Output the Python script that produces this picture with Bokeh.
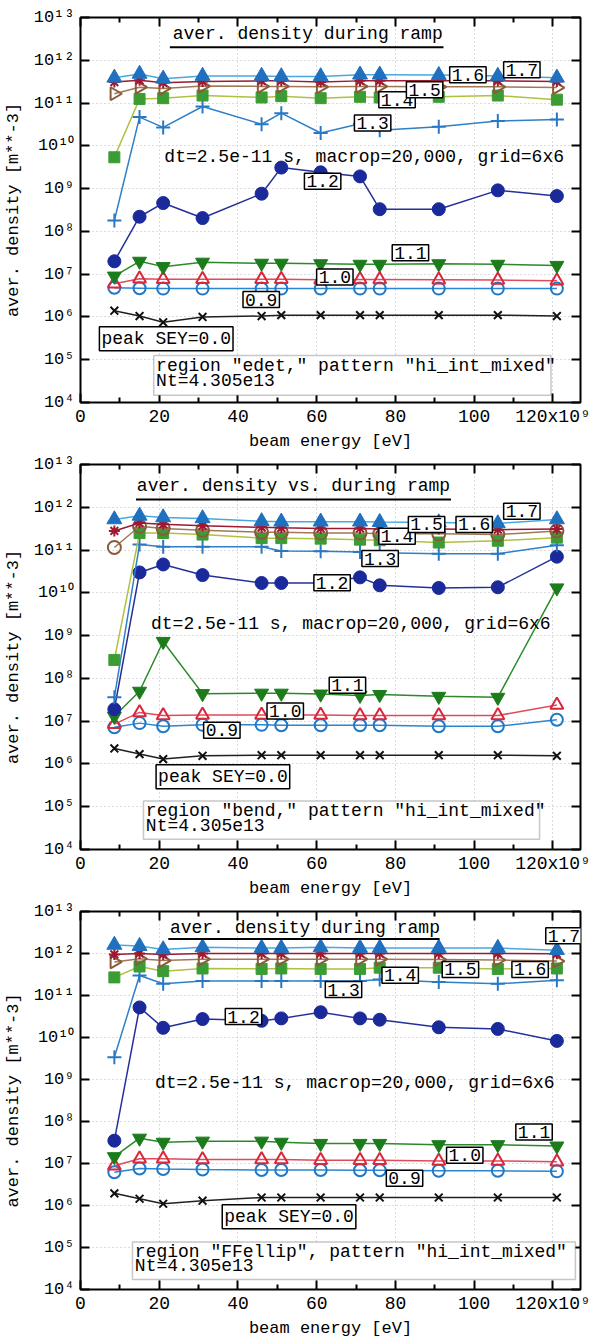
import math
from bokeh.plotting import figure
from bokeh.models import (Range1d, FixedTicker, LogAxis, LinearAxis, Label, BoxAnnotation)
from bokeh.layouts import column
from bokeh.embed import file_html
from bokeh.resources import INLINE

# beam energy of the simulated ramp points [GeV]
energy_gev = [8.6, 15, 21, 31, 46, 51, 61, 71, 76, 91, 106, 121]
sey_levels = ["0.0", "0.9", "1.0", "1.1", "1.2", "1.3", "1.4", "1.5", "1.6", "1.7"]

# ---- region "edet," ----
edet_00 = [1.4e6, 1.05e6, 7.5e5, 1.0e6, 1.05e6, 1.1e6, 1.1e6, 1.1e6, 1.1e6, 1.1e6, 1.1e6, 1.05e6]
edet_09 = [4.8e6, 4.7e6, 4.6e6, 4.6e6, 4.6e6, 4.6e6, 4.6e6, 4.6e6, 4.6e6, 4.6e6, 4.6e6, 4.6e6]
edet_10 = [6.0e6, 7.8e6, 7.6e6, 7.6e6, 7.6e6, 7.6e6, 7.4e6, 7.5e6, 7.5e6, 7.4e6, 7.3e6, 7.0e6]
edet_11 = [9.0e6, 2.0e7, 1.5e7, 1.9e7, 1.8e7, 1.8e7, 1.75e7, 1.7e7, 1.7e7, 1.75e7, 1.7e7, 1.6e7]
edet_12 = [2.0e7, 2.2e8, 4.6e8, 2.05e8, 7.6e8, 3.1e9, 2.4e9, 1.93e9, 3.3e8, 3.3e8, 9.1e8, 6.7e8]
edet_13 = [1.8e8, 4.7e10, 2.7e10, 8.3e10, 3.2e10, 5.8e10, 2.0e10, 3.3e10, 2.3e10, 2.8e10, 3.8e10, 4.1e10]
edet_14 = [5.4e9, 1.25e11, 1.3e11, 1.5e11, 1.35e11, 1.45e11, 1.3e11, 1.4e11, 1.35e11, 1.4e11, 1.5e11, 1.2e11]
edet_15 = [1.65e11, 2.35e11, 2.2e11, 2.5e11, 2.45e11, 2.45e11, 2.4e11, 2.45e11, 2.45e11, 2.4e11, 2.4e11, 2.3e11]
edet_16 = [3.1e11, 3.4e11, 3.0e11, 3.2e11, 3.3e11, 3.3e11, 3.1e11, 3.3e11, 3.3e11, 3.3e11, 3.3e11, 3.2e11]
edet_17 = [3.9e11, 4.8e11, 3.7e11, 4.3e11, 4.3e11, 4.2e11, 4.2e11, 4.6e11, 4.6e11, 4.5e11, 4.3e11, 3.9e11]

# ---- region "bend," ----
bend_00 = [2.3e6, 1.7e6, 1.3e6, 1.55e6, 1.6e6, 1.6e6, 1.6e6, 1.6e6, 1.6e6, 1.6e6, 1.6e6, 1.55e6]
bend_09 = [7.2e6, 9.0e6, 7.6e6, 8.2e6, 8.2e6, 8.0e6, 8.0e6, 8.0e6, 8.0e6, 7.6e6, 7.6e6, 1.08e7]
bend_10 = [8.5e6, 1.6e7, 1.35e7, 1.4e7, 1.4e7, 1.4e7, 1.4e7, 1.35e7, 1.35e7, 1.35e7, 1.35e7, 2.4e7]
bend_11 = [1.3e7, 5.0e7, 7.3e8, 4.4e7, 4.5e7, 4.5e7, 4.3e7, 4.0e7, 4.2e7, 3.8e7, 3.6e7, 1.3e10]
bend_12 = [1.9e7, 3.0e10, 4.6e10, 2.6e10, 1.7e10, 1.7e10, 1.7e10, 2.3e10, 1.5e10, 1.3e10, 1.35e10, 7.0e10]
bend_13 = [3.6e7, 1.35e11, 1.2e11, 1.2e11, 1.2e11, 9.5e10, 9.4e10, 9.0e10, 8.6e10, 8.2e10, 8.2e10, 1.3e11]
bend_14 = [2.7e8, 2.5e11, 2.5e11, 2.3e11, 1.9e11, 1.9e11, 1.85e11, 1.75e11, 1.7e11, 1.5e11, 1.65e11, 1.95e11]
bend_15 = [1.15e11, 3.6e11, 3.2e11, 2.9e11, 2.6e11, 2.6e11, 2.5e11, 2.5e11, 2.4e11, 2.4e11, 2.3e11, 2.8e11]
bend_16 = [2.8e11, 4.3e11, 4.0e11, 3.7e11, 3.4e11, 3.3e11, 3.2e11, 3.2e11, 3.1e11, 3.1e11, 3.0e11, 3.1e11]
bend_17 = [5.2e11, 6.3e11, 5.8e11, 5.5e11, 4.7e11, 4.6e11, 4.6e11, 4.6e11, 4.5e11, 4.4e11, 4.2e11, 5.2e11]

# ---- region "FFellip" ----
ffellip_00 = [1.95e6, 1.45e6, 1.1e6, 1.3e6, 1.55e6, 1.55e6, 1.55e6, 1.55e6, 1.55e6, 1.55e6, 1.55e6, 1.55e6]
ffellip_09 = [6.2e6, 7.6e6, 7.4e6, 7.2e6, 7.0e6, 7.0e6, 7.0e6, 6.9e6, 6.9e6, 6.7e6, 6.7e6, 6.5e6]
ffellip_10 = [8.8e6, 1.3e7, 1.3e7, 1.25e7, 1.25e7, 1.25e7, 1.2e7, 1.2e7, 1.2e7, 1.15e7, 1.15e7, 1.1e7]
ffellip_11 = [1.45e7, 4.0e7, 3.2e7, 3.4e7, 3.4e7, 3.2e7, 3.0e7, 3.0e7, 3.0e7, 2.8e7, 2.8e7, 2.6e7]
ffellip_12 = [3.5e7, 5.2e10, 1.7e10, 2.75e10, 2.5e10, 2.85e10, 4.0e10, 2.85e10, 2.65e10, 1.75e10, 1.6e10, 8.3e9]
ffellip_13 = [3.4e9, 3.0e11, 1.9e11, 2.2e11, 2.2e11, 2.2e11, 2.2e11, 2.2e11, 2.4e11, 2.1e11, 1.9e11, 2.3e11]
ffellip_14 = [2.7e11, 4.9e11, 3.8e11, 4.4e11, 4.3e11, 4.4e11, 4.3e11, 4.3e11, 4.6e11, 4.6e11, 4.3e11, 4.4e11]
ffellip_15 = [6.3e11, 7.5e11, 6.8e11, 7.3e11, 7.3e11, 7.3e11, 7.3e11, 7.3e11, 7.3e11, 7.2e11, 7.0e11, 6.6e11]
ffellip_16 = [9.5e11, 1.0e12, 9.5e11, 1.0e12, 1.0e12, 1.0e12, 1.0e12, 1.0e12, 1.0e12, 1.0e12, 1.0e12, 9.8e11]
ffellip_17 = [1.6e12, 1.5e12, 1.25e12, 1.4e12, 1.35e12, 1.35e12, 1.4e12, 1.35e12, 1.35e12, 1.35e12, 1.35e12, 1.2e12]

x_tick_values = [0, 20, 40, 60, 80, 100, 120]
x_tick_labels = ["0", "20", "40", "60", "80", "100", "120x10\u2079"]
y_tick_exponents = [4, 5, 6, 7, 8, 9, 10, 11, 12, 13]

FONT = "Liberation Mono"
SUP = str.maketrans("0123456789", "\u2070\u00b9\u00b2\u00b3\u2074\u2075\u2076\u2077\u2078\u2079")

# line colour, marker colour, marker, size, filled
STYLE = {
    "0.0": ("#202020", "#101010", "x", 11, False),
    "0.9": ("#2a86d0", "#1f78c8", "circle", 12, False),
    "1.0": ("#e04a5a", "#d8283c", "triangle", 13, False),
    "1.1": ("#2a8a2a", "#1c7c1c", "inverted_triangle", 14, True),
    "1.2": ("#24309a", "#1a2a9a", "circle", 13, True),
    "1.3": ("#2f80c8", "#2a78c4", "cross", 14, False),
    "1.4": ("#b0c040", "#3c9c34", "square", 11, True),
    "1.5": ("#a07858", "#8a5a3a", "triangle", 13, False),
    "1.6": ("#9a1a30", "#a01830", "asterisk", 11, False),
    "1.7": ("#48a8e0", "#2070c0", "triangle", 15, True),
}


def mirror_axis(cls, ticker):
    # tick marks only, for the opposite frame edges
    return cls(ticker=ticker, major_label_text_font_size="1px", major_label_text_alpha=0.0,
               major_label_standoff=0, axis_line_color=None, major_tick_out=0,
               minor_tick_out=0, major_tick_in=9, minor_tick_in=5,
               major_tick_line_width=2, minor_tick_line_width=2)


def panel(series, cfg, top, frame_h, bottom):
    p = figure(width=590, height=top + frame_h + bottom, output_backend="svg",
               toolbar_location=None,
               x_range=Range1d(0, 127e9), y_range=Range1d(1e4, 1e13), y_axis_type="log",
               min_border_left=78, min_border_right=12, min_border_top=top,
               min_border_bottom=bottom, frame_height=frame_h, frame_width=500)
    p.background_fill_color = "white"
    p.border_fill_color = "white"
    p.outline_line_color = "black"
    p.outline_line_width = 2

    xt = FixedTicker(ticks=[v * 1e9 for v in x_tick_values],
                     minor_ticks=[v * 1e9 for v in range(10, 130, 20)])
    yt = FixedTicker(ticks=[10.0 ** e for e in y_tick_exponents], minor_ticks=[])

    xa = p.xaxis[0]
    xa.ticker = xt
    xa.major_label_overrides = {v * 1e9: s for v, s in zip(x_tick_values, x_tick_labels)}
    xa.axis_label = "beam energy [eV]"
    ya = p.yaxis[0]
    ya.ticker = yt
    ya.major_label_overrides = {10.0 ** e: "10" + str(e).translate(SUP) for e in y_tick_exponents}
    ya.axis_label = "aver. density [m**-3]"
    for ax in (xa, ya):
        ax.axis_line_color = None
        ax.major_tick_out = 0
        ax.minor_tick_out = 0
        ax.major_tick_in = 9
        ax.minor_tick_in = 5
        ax.major_tick_line_width = 2
        ax.minor_tick_line_width = 2
        ax.major_label_text_font = FONT
        ax.axis_label_text_font = FONT
        ax.axis_label_text_font_style = "normal"
        ax.axis_label_text_font_size = "17px"
        ax.axis_label_text_color = "black"
        ax.major_label_text_color = "black"
    xa.major_label_text_font_size = "18px"
    xa.major_label_standoff = 4
    xa.axis_label_standoff = 2
    ya.major_label_text_font_size = "17px"
    ya.major_label_standoff = 6
    ya.axis_label_standoff = 8

    p.add_layout(mirror_axis(LinearAxis, xt), "above")
    p.add_layout(mirror_axis(LogAxis, yt), "right")

    for g in (p.xgrid[0], p.ygrid[0]):
        g.grid_line_color = "#b8b8b8"
        g.grid_line_dash = "1 3"
        g.grid_line_width = 1
    p.xgrid[0].ticker = xt
    p.ygrid[0].ticker = yt

    xs = [e * 1e9 for e in energy_gev]
    for lvl in sey_levels:
        lc, mc, mk, sz, filled = STYLE[lvl]
        mk = cfg.get("markers", {}).get(lvl, mk)
        angle = -math.pi / 2 if (lvl == "1.5" and mk == "triangle") else 0.0
        ys = series[lvl]
        p.line(xs, ys, line_color=lc, line_width=1.5)
        p.scatter(xs, ys, marker=mk, size=sz, angle=angle,
                  fill_color=mc if filled else None, line_color=mc,
                  line_width=2 if not filled else 1)

    # title with underline
    tx, ty, ux0, ux1, uy = cfg["title_pos"]
    p.segment(x0=[ux0 * 1e9], y0=[10 ** uy], x1=[ux1 * 1e9], y1=[10 ** uy],
              line_color="black", line_width=2)
    p.add_layout(Label(x=tx * 1e9, y=10 ** ty, text=cfg["title"], text_font=FONT,
                       text_font_size="18px", text_align="center", text_baseline="middle",
                       text_color="black"))

    dx, dy = cfg["dt_pos"]
    p.add_layout(Label(x=dx * 1e9, y=10 ** dy, text="dt=2.5e-11 s, macrop=20,000, grid=6x6",
                       text_font=FONT, text_font_size="18px", text_align="left",
                       text_baseline="middle", text_color="black"))

    # region box
    bl, br, bt, bb = cfg["region_box"]
    p.add_layout(BoxAnnotation(left=bl * 1e9, right=br * 1e9, top=10 ** bt, bottom=10 ** bb,
                               fill_color="white", fill_alpha=1.0, line_color="#444444",
                               line_width=1.5))
    rx, ry1, ry2 = cfg["region_text"]
    p.add_layout(Label(x=rx * 1e9, y=10 ** ry1, text=cfg["region"], text_font=FONT,
                       text_font_size="18px", text_align="left", text_baseline="middle",
                       text_color="black"))
    p.add_layout(Label(x=rx * 1e9, y=10 ** ry2, text="Nt=4.305e13", text_font=FONT,
                       text_font_size="18px", text_align="left", text_baseline="middle",
                       text_color="black"))

    # boxed SEY labels
    for txt, (lx, ly) in cfg["labels"]:
        p.add_layout(Label(x=lx * 1e9, y=10 ** ly, text=txt, text_font=FONT,
                           text_font_size="18px", text_color="black",
                           text_align="center" if txt != "peak SEY=0.0" else "left",
                           text_baseline="middle", background_fill_color="white",
                           border_line_color="black", border_line_width=1.5, padding=2))
    return p


def series_of(arrs):
    return dict(zip(sey_levels, arrs))


edet_cfg = dict(
    title="aver. density during ramp",
    title_pos=(57.7, 12.62, 22.7, 92.2, 12.306),
    dt_pos=(21.3, 9.736),
    region='region "edet," pattern "hi_int_mixed"',
    region_box=(18.6, 119.5, 5.1, 4.17),
    region_text=(19.2, 4.85, 4.5),
    labels=[("1.4", (80.4, 11.08)), ("1.5", (87.4, 11.313)), ("1.6", (98.4, 11.664)),
            ("1.7", (112.1, 11.78)), ("1.3", (74.2, 10.535)), ("1.2", (61.5, 9.17)),
            ("1.1", (83.8, 7.498)), ("1.0", (64.6, 6.932)), ("0.9", (45.9, 6.407)),
            ("peak SEY=0.0", (4.8, 5.49))],
)
bend_cfg = dict(
    title="aver. density vs. during ramp",
    title_pos=(54.1, 12.493, 14.1, 94.1, 12.182),
    dt_pos=(17.9, 9.262),
    region='region "bend," pattern "hi_int_mixed"',
    region_box=(16.0, 116.6, 5.133, 4.24),
    region_text=(16.6, 4.90, 4.55),
    markers={"1.5": "circle"},
    labels=[("1.4", (80.4, 11.325)), ("1.5", (87.9, 11.598)), ("1.6", (100.0, 11.598)),
            ("1.7", (112.1, 11.909)), ("1.3", (76.1, 10.80)), ("1.2", (63.9, 10.234)),
            ("1.1", (67.8, 7.839)), ("1.0", (52.0, 7.236)), ("0.9", (35.9, 6.79)),
            ("peak SEY=0.0", (19.2, 5.70))],
)
ffellip_cfg = dict(
    title="aver. density during ramp",
    title_pos=(57.0, 12.6, 22.3, 91.2, 12.344),
    dt_pos=(18.9, 8.906),
    region='region "FFellip", pattern "hi_int_mixed"',
    region_box=(13.2, 125.7, 5.13, 4.24),
    region_text=(13.8, 4.90, 4.55),
    labels=[("1.4", (81.2, 11.48)), ("1.5", (96.5, 11.62)), ("1.6", (114.2, 11.62)),
            ("1.7", (122.8, 12.42)), ("1.3", (66.8, 11.14)), ("1.2", (41.4, 10.5)),
            ("1.1", (115.2, 7.748)), ("1.0", (97.6, 7.197)), ("0.9", (82.3, 6.646)),
            ("peak SEY=0.0", (36.0, 5.733))],
)

p1 = panel(series_of([edet_00, edet_09, edet_10, edet_11, edet_12, edet_13, edet_14, edet_15,
                      edet_16, edet_17]), edet_cfg, 17, 385, 50)
p2 = panel(series_of([bend_00, bend_09, bend_10, bend_11, bend_12, bend_13, bend_14, bend_15,
                      bend_16, bend_17]), bend_cfg, 11, 385, 50)
p3 = panel(series_of([ffellip_00, ffellip_09, ffellip_10, ffellip_11, ffellip_12, ffellip_13,
                      ffellip_14, ffellip_15, ffellip_16, ffellip_17]), ffellip_cfg, 11, 378, 49)

layout = column(p1, p2, p3, spacing=0)
open("out.html", "w").write(file_html(layout, INLINE))
